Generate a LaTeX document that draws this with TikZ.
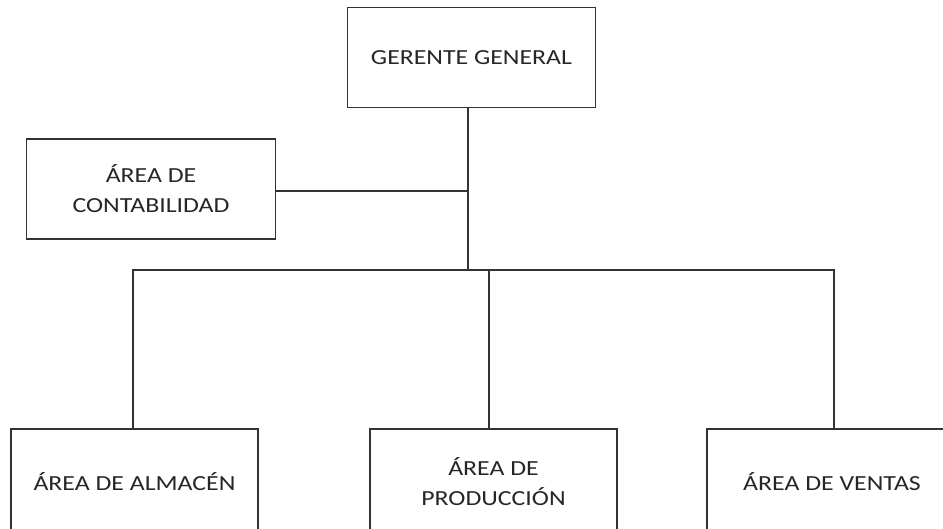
\documentclass[tikz,border=0pt]{standalone}
\usepackage{fontspec}
\setmainfont{Carlito}[FakeStretch=1.2]
\begin{document}
\begin{tikzpicture}[x=1pt,y=-1pt,
  box/.style={draw=black!80,line width=1.4pt,rectangle,inner sep=0pt,align=center,
    font=\fontsize{21.5}{30}\selectfont,text=black!85},
  conn/.style={draw=black!80,line width=1.4pt}]
\useasboundingbox (0,0) rectangle (943,528);
\clip (0,0) rectangle (943,528);
\node[box,minimum width=248pt,minimum height=100pt] (gg) at (471.5,57.5) {GERENTE GENERAL};
\node[box,minimum width=249pt,minimum height=100pt] (cont) at (151,189) {ÁREA DE\\CONTABILIDAD};
\node[box,minimum width=247pt,minimum height=106pt] (alm) at (134.5,482) {ÁREA DE ALMACÉN};
\node[box,minimum width=247pt,minimum height=106pt] (prod) at (493.5,482) {ÁREA DE\\PRODUCCIÓN};
\node[box,minimum width=250pt,minimum height=106pt] (ven) at (832,482) {ÁREA DE VENTAS};
\coordinate (j1) at (468,191);
\coordinate (j2) at (468,270);
\coordinate (bl) at (133,270);
\coordinate (br) at (834,270);
\coordinate (bp) at (489,270);
\draw[conn] (gg.south -| j1) -- (j2);
\draw[conn] (cont.east |- j1) -- (j1);
\draw[conn] (alm.north -| bl) -- (bl) -- (br) -- (ven.north -| br);
\draw[conn] (bp) -- (prod.north -| bp);
\end{tikzpicture}
\end{document}
